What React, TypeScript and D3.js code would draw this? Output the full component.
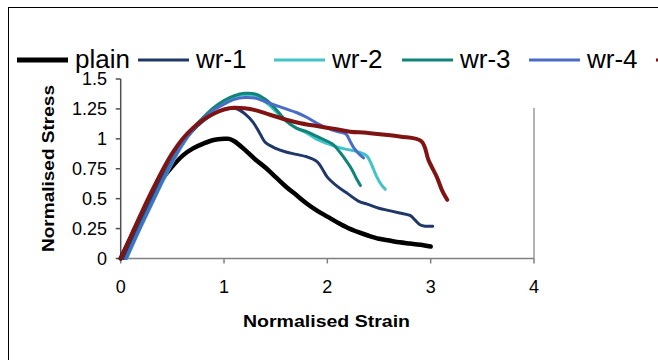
import React from "react";
import * as d3 from "d3";

const xTicks = [0, 1, 2, 3, 4];
const yTicks = [0, 0.25, 0.5, 0.75, 1, 1.25, 1.5];
const yTickLabels = ["0", "0.25", "0.5", "0.75", "1", "1.25", "1.5"];

const seriesNames = ["plain", "wr-1", "wr-2", "wr-3", "wr-4", "wr-5"];
const seriesColors = ["#000000", "#1f3868", "#40c4c8", "#108478", "#4a6cc6", "#801414"];
const seriesWidths = [4.5, 3, 3, 3, 3, 4];

const plainX = [0, 0.1, 0.2, 0.3, 0.4, 0.5, 0.6, 0.7, 0.8, 0.9, 1.0, 1.05, 1.1, 1.2, 1.3, 1.4, 1.5, 1.6, 1.7, 1.8, 1.9, 2.0, 2.1, 2.2, 2.3, 2.4, 2.5, 2.6, 2.7, 2.8, 2.9, 3.0];
const plainY = [0, 0.18, 0.36, 0.52, 0.66, 0.77, 0.86, 0.92, 0.96, 0.99, 1.0, 1.0, 0.98, 0.91, 0.83, 0.76, 0.68, 0.6, 0.53, 0.46, 0.4, 0.35, 0.3, 0.255, 0.22, 0.19, 0.165, 0.15, 0.135, 0.125, 0.115, 0.1];

const wr1X = [0.03, 0.1, 0.2, 0.3, 0.4, 0.5, 0.6, 0.7, 0.8, 0.9, 1.0, 1.1, 1.15, 1.2, 1.28, 1.35, 1.4, 1.5, 1.6, 1.7, 1.8, 1.9, 1.95, 2.0, 2.1, 2.2, 2.3, 2.4, 2.5, 2.6, 2.7, 2.8, 2.85, 2.9, 2.95, 3.02];
const wr1Y = [0, 0.14, 0.33, 0.51, 0.68, 0.83, 0.96, 1.07, 1.15, 1.21, 1.245, 1.255, 1.24, 1.21, 1.14, 1.04, 0.97, 0.92, 0.89, 0.87, 0.85, 0.81, 0.75, 0.68, 0.6, 0.54, 0.48, 0.45, 0.42, 0.4, 0.38, 0.36, 0.32, 0.28, 0.27, 0.27];

const wr2X = [0.06, 0.1, 0.2, 0.3, 0.4, 0.5, 0.6, 0.7, 0.8, 0.9, 1.0, 1.1, 1.2, 1.3, 1.4, 1.5, 1.6, 1.7, 1.8, 1.9, 2.0, 2.1, 2.2, 2.3, 2.38, 2.42, 2.48, 2.52, 2.56];
const wr2Y = [0, 0.08, 0.27, 0.45, 0.63, 0.8, 0.95, 1.08, 1.17, 1.25, 1.31, 1.35, 1.37, 1.36, 1.31, 1.23, 1.15, 1.09, 1.05, 0.995, 0.96, 0.93, 0.91, 0.89, 0.86, 0.8, 0.68, 0.62, 0.58];

const wr3X = [0.05, 0.1, 0.2, 0.3, 0.4, 0.5, 0.6, 0.7, 0.8, 0.9, 1.0, 1.1, 1.2, 1.3, 1.4, 1.5, 1.6, 1.7, 1.8, 1.9, 2.0, 2.06, 2.12, 2.18, 2.24, 2.28, 2.32];
const wr3Y = [0, 0.1, 0.29, 0.47, 0.65, 0.82, 0.97, 1.09, 1.18, 1.26, 1.32, 1.36, 1.38, 1.375, 1.33, 1.25, 1.15, 1.09, 1.06, 1.02, 0.98, 0.95, 0.89, 0.82, 0.74, 0.67, 0.61];

const wr4X = [0.05, 0.1, 0.2, 0.3, 0.4, 0.5, 0.6, 0.7, 0.8, 0.9, 1.0, 1.1, 1.2, 1.3, 1.4, 1.5, 1.6, 1.7, 1.8, 1.9, 2.0, 2.1, 2.18, 2.22, 2.26, 2.3, 2.35];
const wr4Y = [0, 0.09, 0.28, 0.46, 0.64, 0.81, 0.96, 1.08, 1.17, 1.24, 1.29, 1.33, 1.345, 1.34, 1.31, 1.28, 1.25, 1.22, 1.18, 1.13, 1.09, 1.06, 1.04, 0.98, 0.92, 0.88, 0.84];

const wr5X = [0, 0.1, 0.2, 0.3, 0.4, 0.5, 0.6, 0.7, 0.8, 0.9, 1.0, 1.1, 1.2, 1.3, 1.41, 1.6, 1.74, 2.06, 2.22, 2.38, 2.7, 2.91, 2.98, 3.06, 3.11, 3.16];
const wr5Y = [0, 0.19, 0.38, 0.56, 0.73, 0.88, 1.0, 1.09, 1.16, 1.21, 1.245, 1.26, 1.255, 1.24, 1.21, 1.16, 1.13, 1.085, 1.06, 1.05, 1.02, 0.98, 0.82, 0.68, 0.57, 0.49];

const seriesX = [plainX, wr1X, wr2X, wr3X, wr4X, wr5X];
const seriesY = [plainY, wr1Y, wr2Y, wr3Y, wr4Y, wr5Y];
const drawOrder = [0, 1, 2, 3, 4, 5];

const legendLineX = [17, 138, 274, 402, 529, 656];
const legendLineLen = 51;

export default function App() {
  const W = 658;
  const H = 360;
  const x = d3.scaleLinear().domain([0, 4]).range([120.7, 534]);
  const y = d3.scaleLinear().domain([0, 1.5]).range([258.5, 79]);
  const font = "'Liberation Sans', Arial, sans-serif";

  const line = d3
    .line<[number, number]>()
    .x((d) => x(d[0]))
    .y((d) => y(d[1]))
    .curve(d3.curveCatmullRom.alpha(0.5));

  return (
    <svg
      width={W}
      height={H}
      style={{ position: "absolute", left: 0, top: 0, background: "#fff" }}
      fontFamily={font}
    >
      <rect x={0} y={0} width={W} height={H} fill="#fff" />
      {/* outer chart frame (clipped) */}
      <rect x={8.5} y={7.5} width={700} height={400} fill="none" stroke="#000" strokeWidth={1} />

      {/* legend */}
      {seriesNames.map((n, i) => (
        <g key={n}>
          <line
            x1={legendLineX[i]}
            x2={legendLineX[i] + legendLineLen}
            y1={60}
            y2={60}
            stroke={seriesColors[i]}
            strokeWidth={i === 0 ? 5 : 3}
          />
          <text x={legendLineX[i] + 58} y={68} fontSize={26} fill="#000">
            {n}
          </text>
        </g>
      ))}

      {/* right plot border */}
      <line x1={534} x2={534} y1={108} y2={258.5} stroke="#999" strokeWidth={1.5} />

      {/* x axis */}
      <line x1={x(0)} x2={x(4)} y1={y(0)} y2={y(0)} stroke="#808080" strokeWidth={1.5} />
      {xTicks.map((t) => (
        <g key={"xt" + t}>
          <line x1={x(t)} x2={x(t)} y1={y(0)} y2={y(0) + 5} stroke="#808080" strokeWidth={1.5} />
          <text x={x(t)} y={293} fontSize={18} textAnchor="middle" fill="#000">
            {String(t)}
          </text>
        </g>
      ))}

      {/* y axis */}
      <line x1={x(0)} x2={x(0)} y1={y(1.5)} y2={y(0)} stroke="#505050" strokeWidth={1.5} />
      {yTicks.map((t, i) => (
        <g key={"yt" + t}>
          <line x1={x(0) - 5} x2={x(0)} y1={y(t)} y2={y(t)} stroke="#505050" strokeWidth={1.5} />
          <text x={107} y={y(t) + 6} fontSize={18} textAnchor="end" fill="#000">
            {yTickLabels[i]}
          </text>
        </g>
      ))}

      {/* series */}
      {drawOrder.map((i) => {
        const pts: [number, number][] = seriesX[i].map((v, k) => [v, seriesY[i][k]]);
        return (
          <path
            key={"s" + i}
            d={line(pts) || ""}
            fill="none"
            stroke={seriesColors[i]}
            strokeWidth={seriesWidths[i]}
            strokeLinejoin="round"
            strokeLinecap="round"
          />
        );
      })}

      {/* axis titles */}
      <text
        x={326.5}
        y={327}
        fontSize={17}
        fontWeight="bold"
        textAnchor="middle"
        textLength={167}
        lengthAdjust="spacingAndGlyphs"
      >
        Normalised Strain
      </text>
      <text
        transform="translate(54,168.5) rotate(-90)"
        fontSize={17}
        fontWeight="bold"
        textAnchor="middle"
        textLength={167}
        lengthAdjust="spacingAndGlyphs"
      >
        Normalised Stress
      </text>
    </svg>
  );
}
